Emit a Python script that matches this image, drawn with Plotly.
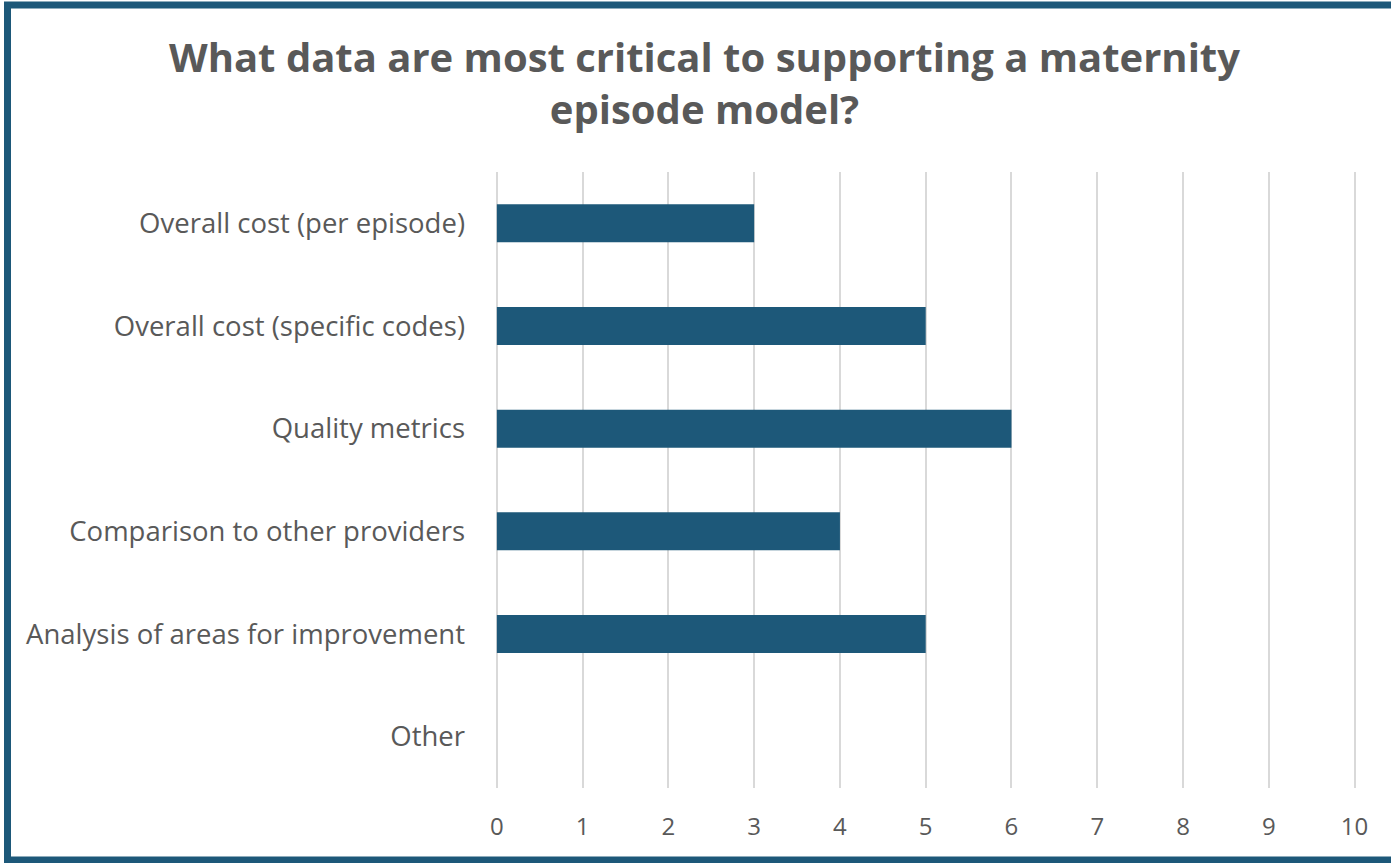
import plotly.graph_objects as go

categories = [
    "Overall cost (per episode)",
    "Overall cost (specific codes)",
    "Quality metrics",
    "Comparison to other providers",
    "Analysis of areas for improvement",
    "Other",
]
responses = [3, 5, 6, 4, 5, 0]
x_ticks = list(range(0, 11))

W, H = 1391, 863
L, R, T, B = 496, 33, 172, 75
pw, ph = W - L - R, H - T - B

def px_x(p):
    return (p - L) / pw

def px_y(p):
    return (H - B - p) / ph

FONT = "Open Sans, Noto Sans, sans-serif"
GRAY = "#595959"

fig = go.Figure(
    go.Bar(
        x=responses,
        y=categories,
        orientation="h",
        width=0.37,
        marker=dict(color="#1D5879", line=dict(width=0)),
        hoverinfo="x+y",
    )
)

fig.update_layout(
    width=W,
    height=H,
    margin=dict(l=L, r=R, t=T, b=B),
    paper_bgcolor="white",
    plot_bgcolor="white",
    showlegend=False,
    font=dict(family=FONT, color=GRAY),
    xaxis=dict(
        range=[-0.01, 10.04],
        tickvals=x_ticks,
        showgrid=True,
        gridcolor="#D9D9D9",
        gridwidth=2,
        zeroline=True,
        zerolinecolor="#D9D9D9",
        zerolinewidth=2,
        showline=False,
        tickfont=dict(size=24, color=GRAY),
        ticklabelstandoff=22,
        fixedrange=True,
    ),
    yaxis=dict(
        categoryorder="array",
        categoryarray=categories[::-1],
        range=[-0.5, 5.5],
        showgrid=False,
        zeroline=False,
        showline=False,
        tickfont=dict(size=27.5, color=GRAY),
        ticklabelstandoff=30,
        fixedrange=True,
    ),
    annotations=[
        dict(
            text="<b>What data are most critical to supporting a maternity<br>episode model?</b>",
            xref="paper",
            yref="paper",
            x=px_x(704),
            y=px_y(82),
            xanchor="center",
            yanchor="middle",
            align="center",
            showarrow=False,
            font=dict(size=40, color=GRAY, family=FONT),
        )
    ],
    shapes=[
        dict(
            type="rect",
            xref="paper",
            yref="paper",
            x0=px_x(7.5),
            x1=px_x(1400),
            y0=px_y(5),
            y1=px_y(860),
            line=dict(color="#1D5879", width=7),
            fillcolor="rgba(0,0,0,0)",
            layer="above",
        )
    ],
)

fig.write_html("out.html")
